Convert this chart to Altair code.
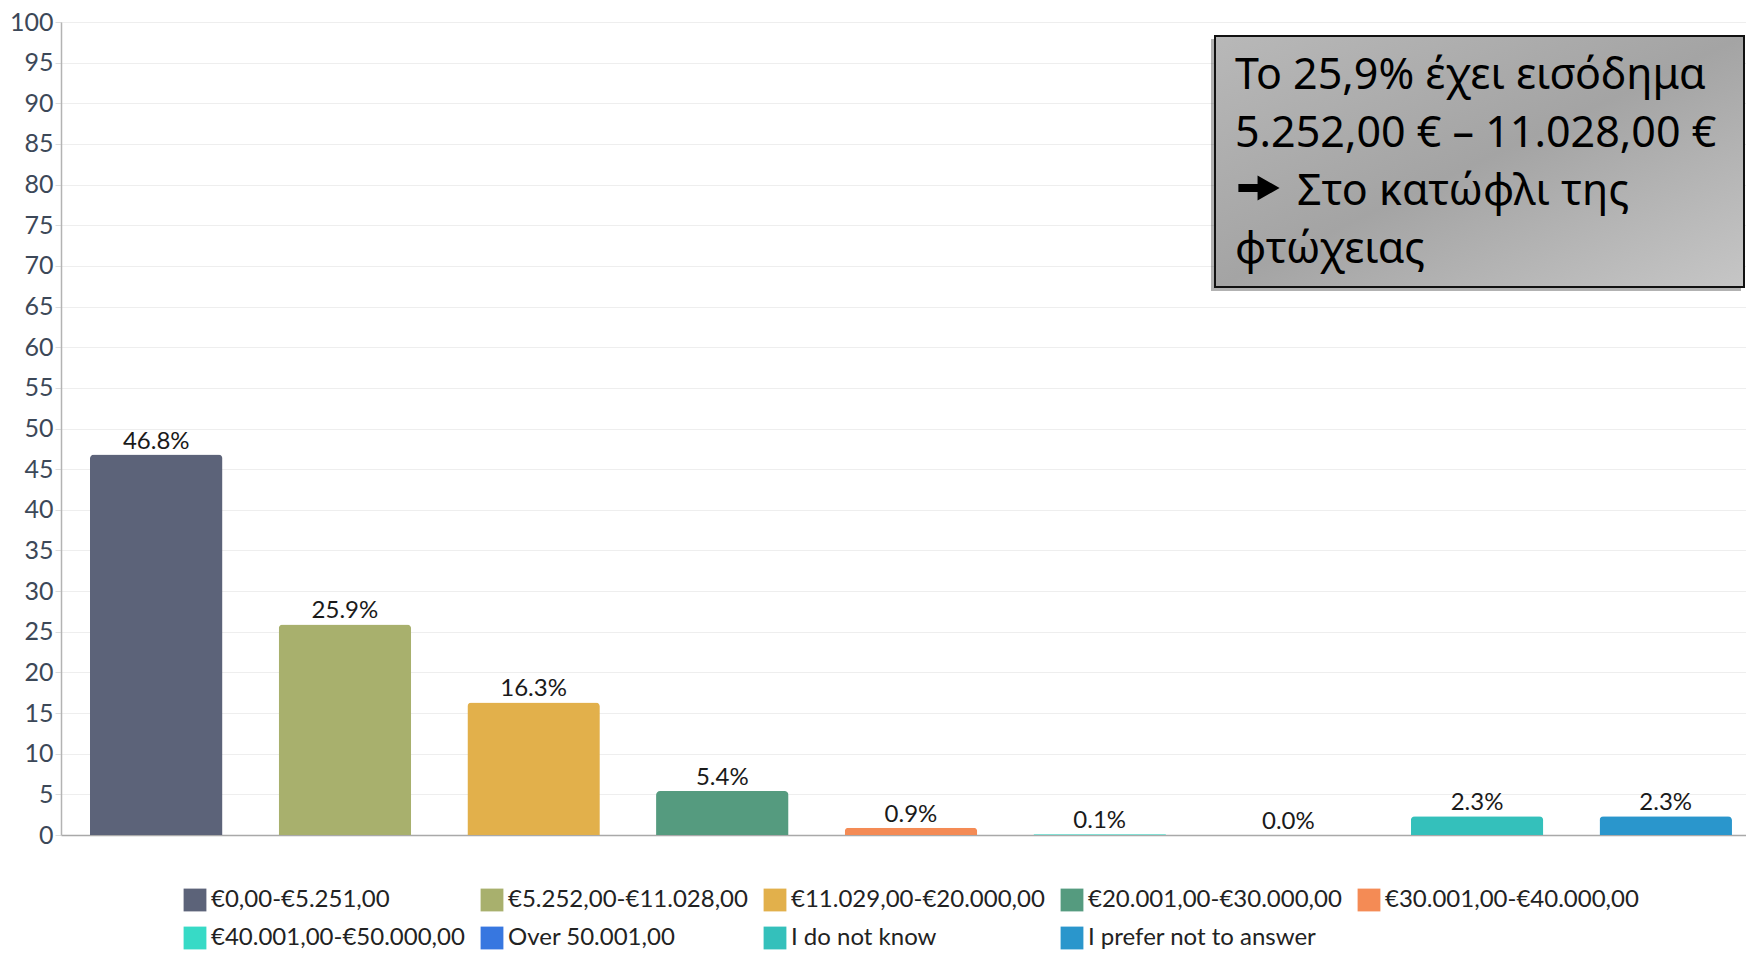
import altair as alt
import pandas as pd

categories = [
    "€0,00-€5.251,00",
    "€5.252,00-€11.028,00",
    "€11.029,00-€20.000,00",
    "€20.001,00-€30.000,00",
    "€30.001,00-€40.000,00",
    "€40.001,00-€50.000,00",
    "Over 50.001,00",
    "I do not know",
    "I prefer not to answer",
]
values = [46.8, 25.9, 16.3, 5.4, 0.9, 0.1, 0.0, 2.3, 2.3]
colors = ["#5c6379", "#a8b06d", "#e2b04b", "#559b7f", "#f48b55",
          "#37dac6", "#3777e0", "#34c0bb", "#2a96cc"]
y_ticks = list(range(0, 101, 5))
note_lines = ["Το 25,9% έχει εισόδημα", "5.252,00 € – 11.028,00 €"]
note_line3 = "Στο κατώφλι της"
note_line4 = "φτώχειας"
ARROW_PATH = "M-1,-0.2 L-0.07,-0.2 L-0.07,-0.61 L1,0 L-0.07,0.61 L-0.07,0.2 L-1,0.2 Z"

df = pd.DataFrame({"cat": categories, "value": values})
FONT = "Lato, Noto Sans, sans-serif"
NOTE_FONT = "Noto Sans, Open Sans, sans-serif"

x_enc = alt.X("cat:N", sort=categories,
              scale=alt.Scale(paddingInner=0.298, paddingOuter=0.114, align=0.674),
              axis=alt.Axis(labels=False, ticks=False, title=None,
                            domainColor="#a9a9a9", domainWidth=1.5))
y_enc = alt.Y("value:Q", scale=alt.Scale(domain=[0, 100], nice=False),
              axis=alt.Axis(values=y_ticks, title=None, labelFont=FONT,
                            labelFontSize=25, labelColor="#3c4858",
                            tickSize=6, tickColor="#dcdcdc",
                            gridColor="#eeeeee", domainColor="#b3b3b3",
                            domainWidth=1.5, labelPadding=2))

bars = alt.Chart(df).mark_bar(cornerRadiusTopLeft=4, cornerRadiusTopRight=4).encode(
    x=x_enc, y=y_enc,
    color=alt.Color("cat:N", sort=categories,
                    scale=alt.Scale(domain=categories, range=colors),
                    legend=alt.Legend(title=None, orient="none", legendX=122, legendY=866,
                                      direction="horizontal", columns=5,
                                      symbolType="square", symbolSize=520,
                                      symbolStrokeWidth=0, labelFont=FONT,
                                      labelFontSize=24, labelColor="#222222",
                                      labelLimit=400, columnPadding=15,
                                      rowPadding=14, labelOffset=4,
                                      gridAlign="each"))
)

labels = alt.Chart(df).transform_calculate(
    lab="format(datum.value, '.1f') + '%'"
).mark_text(font=FONT, fontSize=24, color="#1a1a1a", baseline="alphabetic", dy=-6).encode(
    x=alt.X("cat:N", sort=categories), y="value:Q", text="lab:N"
)

one = pd.DataFrame({"a": [0]})
shadow = alt.Chart(one).mark_rect(color="#000000", opacity=0.3).encode(
    x=alt.value(1150), x2=alt.value(1680), y=alt.value(17), y2=alt.value(269)
)
box = alt.Chart(one).mark_rect(
    fill=alt.Gradient(gradient="linear",
                      stops=[alt.GradientStop(color="#b8b8b8", offset=0),
                             alt.GradientStop(color="#a4a4a4", offset=0.5),
                             alt.GradientStop(color="#c6c6c6", offset=1)],
                      x1=0, x2=1, y1=0, y2=1),
    stroke="#111111", strokeWidth=2
).encode(x=alt.value(1154), x2=alt.value(1683), y=alt.value(14), y2=alt.value(265))

note = alt.Chart(one).mark_text(
    text=note_lines, font=NOTE_FONT,
    fontSize=43, lineHeight=58, align="left", baseline="top", color="#000000"
).encode(x=alt.value(1174), y=alt.value(33))

note3 = alt.Chart(one).mark_text(
    text=note_line3, font=NOTE_FONT,
    fontSize=43, align="left", baseline="top", color="#000000"
).encode(x=alt.value(1236), y=alt.value(33 + 2 * 58))

note4 = alt.Chart(one).mark_text(
    text=note_line4, font=NOTE_FONT,
    fontSize=43, align="left", baseline="top", color="#000000"
).encode(x=alt.value(1174), y=alt.value(33 + 3 * 58))

arrow = alt.Chart(one).mark_point(
    shape=ARROW_PATH, filled=True, color="#000000", opacity=1, size=1700, strokeWidth=0
).encode(x=alt.value(1198), y=alt.value(166))

chart = alt.layer(bars, labels, shadow, box, note, note3, note4, arrow).properties(
    width=1685, height=813,
    padding={"left": 61, "top": 22, "right": 0, "bottom": 119},
    autosize=alt.AutoSizeParams(type="none"),
).configure_view(stroke=None).configure(background="white")

chart.save("out.html", embed_options={"renderer": "svg", "actions": False})
